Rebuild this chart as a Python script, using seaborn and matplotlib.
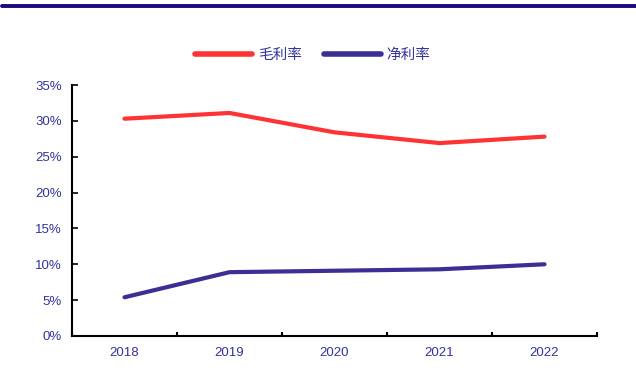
import matplotlib
matplotlib.use("Agg")
import matplotlib.pyplot as plt
import seaborn as sns
import pandas as pd
import numpy as np
from matplotlib.ticker import FixedLocator, PercentFormatter

years = ["2018", "2019", "2020", "2021", "2022"]
gross_margin = [30.3, 31.1, 28.4, 26.9, 27.8]
net_margin = [5.4, 8.9, 9.1, 9.3, 10.0]
series_names = ["毛利率", "净利率"]
colors = ["#FF3333", "#3B2F96"]
yticks = [0, 5, 10, 15, 20, 25, 30, 35]

sns.set_theme(style="white")
plt.rcParams['font.family'] = ['Liberation Sans', 'Noto Sans CJK SC', 'DejaVu Sans']

df = pd.DataFrame({
    "year": years * 2,
    "value": gross_margin + net_margin,
    "series": [series_names[0]] * len(years) + [series_names[1]] * len(years),
})

fig = plt.figure(figsize=(6.36, 3.8), dpi=100)
ax = fig.add_axes([72/636, 44/380, (597-72)/636, (336-85)/380])

sns.lineplot(data=df, x="year", y="value", hue="series", palette=colors,
             linewidth=3.0, ax=ax, legend=True, sort=False)

ax.set_xlim(-0.5, len(years) - 0.5)
ax.set_ylim(0, 35)
ax.set_yticks(yticks)
ax.yaxis.set_major_formatter(PercentFormatter(decimals=0))
ax.set_xticks(range(len(years)))
ax.set_xticklabels(years)
ax.xaxis.set_minor_locator(FixedLocator(np.arange(-0.5, len(years), 1.0)))
ax.tick_params(axis='x', which='major', length=0, pad=8, labelsize=9.5, labelcolor="#33339A")
ax.tick_params(axis='x', which='minor', length=3, width=1.5, direction='in', color='black', bottom=True)
ax.tick_params(axis='y', which='major', length=4, width=1.2, direction='in', color='black', left=True,
               labelsize=9.5, labelcolor="#33339A", pad=7.5)
ax.set_xlabel("")
ax.set_ylabel("")
for s in ["top", "right"]:
    ax.spines[s].set_visible(False)
for s in ["left", "bottom"]:
    ax.spines[s].set_color("black")
    ax.spines[s].set_linewidth(1.5)

leg = ax.legend(loc="center", frameon=False, ncol=2,
                handlelength=3.9, handletextpad=0.4, columnspacing=1.5,
                prop={'family': ['Noto Sans CJK SC', 'DejaVu Sans'], 'size': 10.5})
leg.set_bbox_to_anchor((313/636, 1 - 55/380), transform=fig.transFigure)
for t in leg.get_texts():
    t.set_color("#33339A")
for l in leg.get_lines():
    l.set_linewidth(4)
    l.set_solid_capstyle("round")
for l in ax.get_lines():
    l.set_solid_capstyle("round")

fig.add_artist(plt.Line2D([2/636, 1], [1 - 5.5/380, 1 - 5.5/380], transform=fig.transFigure,
                          color="#1A0A80", linewidth=2.8))

fig.savefig("out.png", dpi=100)
